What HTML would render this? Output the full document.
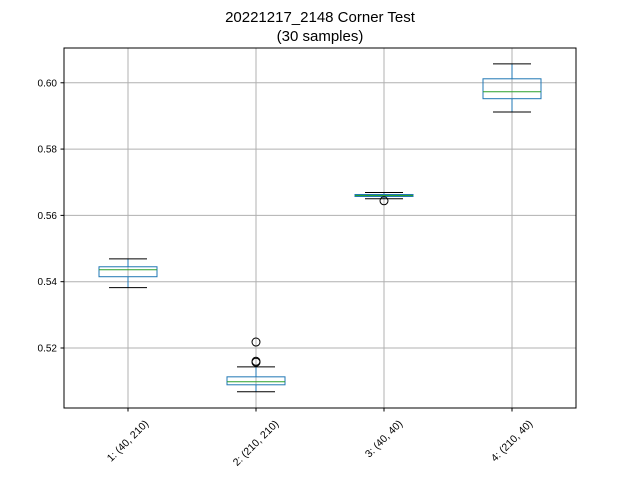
<!DOCTYPE html>
<html><head><meta charset="utf-8"><style>body{margin:0;background:#fff}svg{display:block}</style></head>
<body>
<svg id="c" width="640" height="480" xmlns="http://www.w3.org/2000/svg" font-family="Liberation Sans, DejaVu Sans, sans-serif">
<text x="320" y="22" text-anchor="middle" font-size="15">20221217_2148 Corner Test</text>
<text x="320" y="41" text-anchor="middle" font-size="15">(30 samples)</text>
<g id="plot"></g>
</svg>
<script>
const categories = ["1: (40, 210)", "2: (210, 210)", "3: (40, 40)", "4: (210, 40)"];
const whiskerLow = [0.5382, 0.5068, 0.5650, 0.5912];
const q1 = [0.5415, 0.5089, 0.5657, 0.5952];
const medians = [0.5436, 0.5098, 0.5660, 0.5973];
const q3 = [0.5445, 0.5113, 0.5663, 0.6012];
const whiskerHigh = [0.5469, 0.5143, 0.5669, 0.6057];
const fliers = [[], [0.5218, 0.5160, 0.5157], [0.5644], []];
const yTicks = [0.52, 0.54, 0.56, 0.58, 0.60];
const yTickLabels = ["0.52", "0.54", "0.56", "0.58", "0.60"];

const L=64,R=576,T=48,B=408, yMin=0.50190, yMax=0.61049;
const NS="http://www.w3.org/2000/svg";
const g=document.getElementById('plot');
function y(v){return B-(v-yMin)/(yMax-yMin)*(B-T);}
function x(i){return L+(i+0.5)*(R-L)/categories.length;}
function el(t,a,p){const e=document.createElementNS(NS,t);for(const k in a)e.setAttribute(k,a[k]);(p||g).appendChild(e);return e;}
yTicks.forEach((v,i)=>{
  const l=el('line',{x1:L,x2:R,y1:y(v),y2:y(v),stroke:'#b0b0b0','stroke-width':1});
  
  
  el('line',{x1:L-3.5,x2:L,y1:y(v),y2:y(v),stroke:'#000'});
  const t=el('text',{x:L-7,y:y(v)+3.5,'text-anchor':'end','font-size':10});
  t.textContent=yTickLabels[i];
  
  
});
categories.forEach((c,i)=>{
  const l=el('line',{x1:x(i),x2:x(i),y1:T,y2:B,stroke:'#b0b0b0'});
  
  
  el('line',{x1:x(i),x2:x(i),y1:B,y2:B+3.5,stroke:'#000'});
  const t=el('text',{x:0,y:0,'text-anchor':'middle','dominant-baseline':'central','font-size':10.5,transform:`translate(${x(i)},${B+8+c.length*2.1}) rotate(-45)`});
  t.textContent=c;
  
  
});
const hw=29, cw=19;
categories.forEach((c,i)=>{
  const bx=el('g',{});
  
  
  const cx=x(i);
  el('line',{x1:cx,x2:cx,y1:y(q3[i]),y2:y(whiskerHigh[i]),stroke:'#1f77b4'},bx);
  el('line',{x1:cx,x2:cx,y1:y(q1[i]),y2:y(whiskerLow[i]),stroke:'#1f77b4'},bx);
  el('line',{x1:cx-cw,x2:cx+cw,y1:y(whiskerHigh[i]),y2:y(whiskerHigh[i]),stroke:'#000'},bx);
  el('line',{x1:cx-cw,x2:cx+cw,y1:y(whiskerLow[i]),y2:y(whiskerLow[i]),stroke:'#000'},bx);
  el('rect',{x:cx-hw,y:y(q3[i]),width:2*hw,height:y(q1[i])-y(q3[i]),fill:'none',stroke:'#1f77b4'},bx);
  el('line',{x1:cx-hw,x2:cx+hw,y1:y(medians[i]),y2:y(medians[i]),stroke:'#2ca02c'},bx);
  fliers[i].forEach(f=>{
    const o=el('circle',{cx:cx,cy:y(f),r:4,fill:'none',stroke:'#000'},bx);
    
    
  });
});
const fr=el('rect',{x:L,y:T,width:R-L,height:B-T,fill:'none',stroke:'#000'});


</script>
</body></html>
